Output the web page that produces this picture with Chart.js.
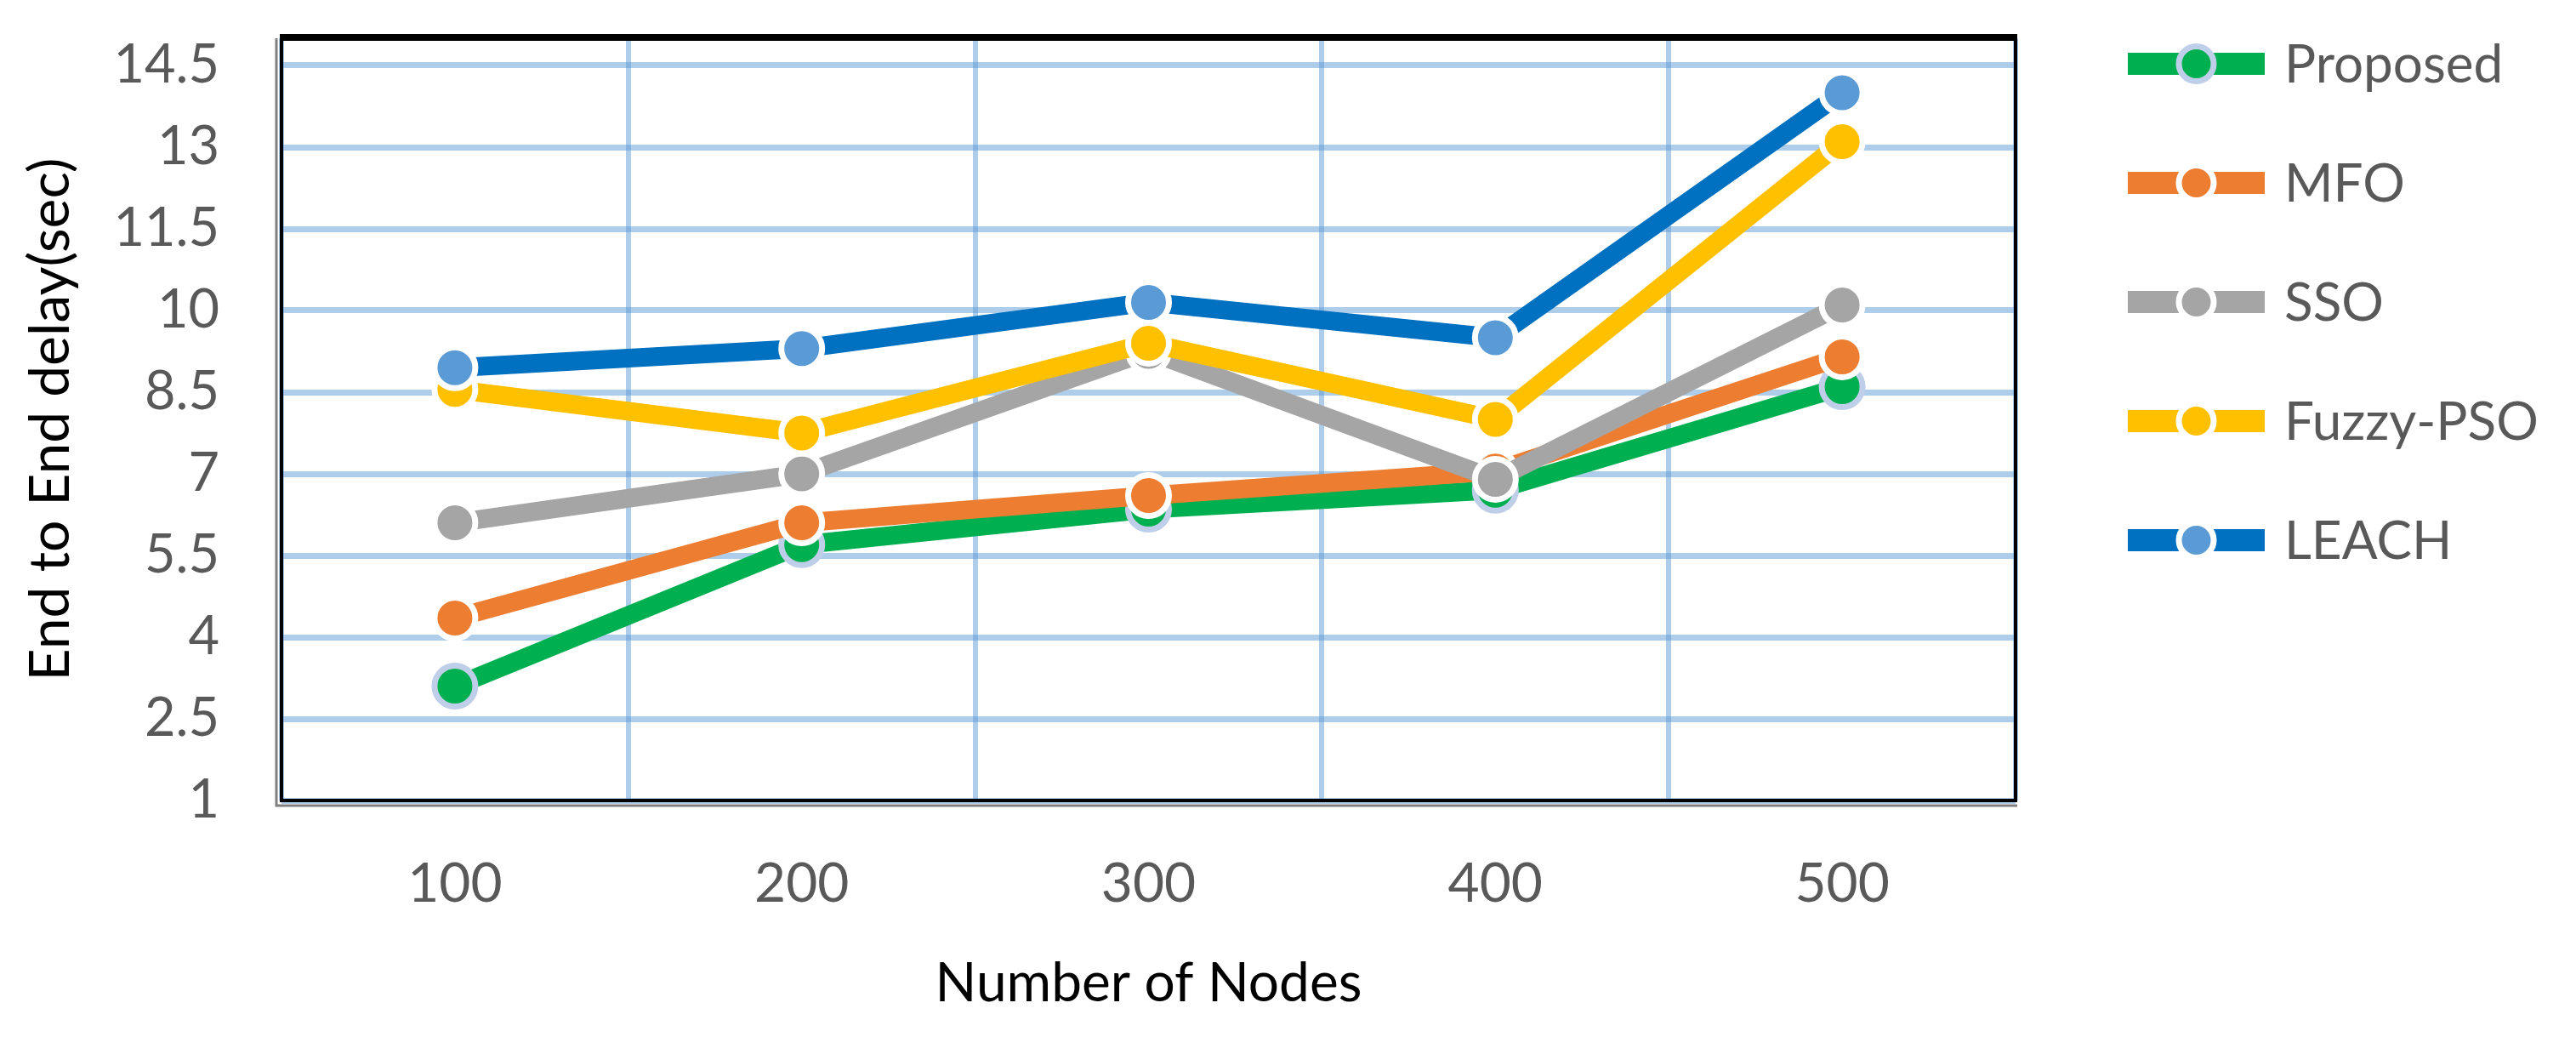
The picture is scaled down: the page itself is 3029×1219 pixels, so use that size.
<!DOCTYPE html>
<html>
<head>
<meta charset="utf-8">
<title>End to End delay</title>
<script src="https://cdn.jsdelivr.net/npm/chart.js@4.4.1/dist/chart.umd.min.js"></script>
<style>
  html, body { margin: 0; padding: 0; background: #fff; }
  #wrap { width: 3029px; height: 1219px; position: relative; }
</style>
</head>
<body>
<div id="wrap"><canvas id="chart"></canvas></div>
<script>
// values
const nodes = ['100', '200', '300', '400', '500'];
const proposed = [3.1, 5.7, 6.35, 6.7, 8.6];
const mfo = [4.35, 6.1, 6.6, 7.05, 9.15];
const sso = [6.1, 7.0, 9.25, 6.9, 10.1];
const fuzzyPso = [8.55, 7.75, 9.4, 8.0, 13.1];
const leach = [8.95, 9.3, 10.15, 9.5, 14.0];
const yTicks = [1, 2.5, 4, 5.5, 7, 8.5, 10, 11.5, 13, 14.5];

const FONT = 'Lato, "Open Sans", sans-serif';
const gridBlue = 'rgba(91,155,213,0.5)';

function series(label, data, line, dot, ring, order) {
    return {
        label: label,
        data: data,
        borderColor: line,
        backgroundColor: line,
        borderWidth: 22,
        tension: 0,
        pointRadius: 24,
        pointHoverRadius: 24,
        pointBorderWidth: 7,
        pointBackgroundColor: dot,
        pointBorderColor: ring,
        order: order
    };
}

// frame round the plot area + legend at the right
const framePlugin = {
    id: 'frame',
    afterDraw(chart) {
        const {ctx, chartArea: a} = chart;
        ctx.save();
        ctx.strokeStyle = '#808080';
        ctx.lineWidth = 3;
        ctx.beginPath();
        ctx.moveTo(a.left - 6, a.top);
        ctx.lineTo(a.left - 6, a.bottom + 6);
        ctx.lineTo(a.right + 2, a.bottom + 6);
        ctx.stroke();
        ctx.strokeStyle = '#000';
        ctx.lineWidth = 4;
        ctx.strokeRect(a.left, a.top, a.right - a.left, a.bottom - a.top);
        ctx.fillStyle = '#000';
        ctx.fillRect(a.left - 2, a.top - 5, a.right - a.left + 4, 8);
        ctx.restore();

        // legend
        const x0 = a.right + 132, len = 161, gap = 23;
        ctx.save();
        ctx.font = '62px ' + FONT;
        ctx.textBaseline = 'middle';
        chart.data.datasets.forEach((ds, i) => {
            const y = a.top + 30 + i * 140;
            ctx.fillStyle = ds.borderColor;
            ctx.fillRect(x0, y - 13, len, 26);
            ctx.beginPath();
            ctx.arc(x0 + len / 2, y, 20.5, 0, Math.PI * 2);
            ctx.fillStyle = ds.pointBackgroundColor;
            ctx.fill();
            ctx.lineWidth = 7;
            ctx.strokeStyle = ds.pointBorderColor;
            ctx.stroke();
            ctx.fillStyle = '#595959';
            ctx.fillText(ds.label, x0 + len + gap, y + 2);
        });
        ctx.restore();
    }
};

const ctx = document.getElementById('chart');

let myChart = new Chart(ctx, {
    type: 'line',
    data: {
        labels: nodes,
        datasets: [
            series('Proposed', proposed, '#00B050', '#00B050', '#BFCFEA', 5),
            series('MFO', mfo, '#ED7D31', '#ED7D31', '#FFFFFF', 4),
            series('SSO', sso, '#A5A5A5', '#A5A5A5', '#FFFFFF', 3),
            series('Fuzzy-PSO', fuzzyPso, '#FFC000', '#FFC000', '#FFFFFF', 2),
            series('LEACH', leach, '#0070C0', '#5B9BD5', '#FFFFFF', 1)
        ]
    },
    options: {
        responsive: true,
        maintainAspectRatio: false,
        devicePixelRatio: 1,
        animation: false,
        layout: { padding: { top: 45, right: 659, bottom: 0, left: 0 } },
        plugins: {
            legend: { display: false },
            tooltip: { enabled: false }
        },
        scales: {
            x: {
                offset: true,
                grid: { offset: true, color: gridBlue, lineWidth: 6, drawTicks: false },
                border: { display: false },
                ticks: { color: '#595959', font: { family: FONT, size: 64 }, padding: 60 },
                title: {
                    display: true,
                    text: 'Number of Nodes',
                    color: '#000',
                    font: { family: FONT, size: 64 },
                    padding: { top: 0, bottom: 24 }
                },
                afterFit(scale) { scale.height = 278; }
            },
            y: {
                min: 1,
                max: 15,
                afterBuildTicks(scale) { scale.ticks = yTicks.map(v => ({value: v})); },
                grid: { color: gridBlue, lineWidth: 7, drawTicks: false },
                border: { display: false },
                ticks: { color: '#595959', font: { family: FONT, size: 63 }, padding: 73 },
                title: {
                    display: true,
                    text: 'End to End delay(sec)',
                    color: '#000',
                    font: { family: FONT, size: 66 },
                    padding: { top: 20, bottom: 0 }
                },
                afterFit(scale) {
                    scale.width = 331;
                    // tick padding would otherwise push the plot top down
                    scale.paddingTop = 0;
                    scale.paddingBottom = 0;
                }
            }
        }
    },
    plugins: [framePlugin]
});
</script>
</body>
</html>
